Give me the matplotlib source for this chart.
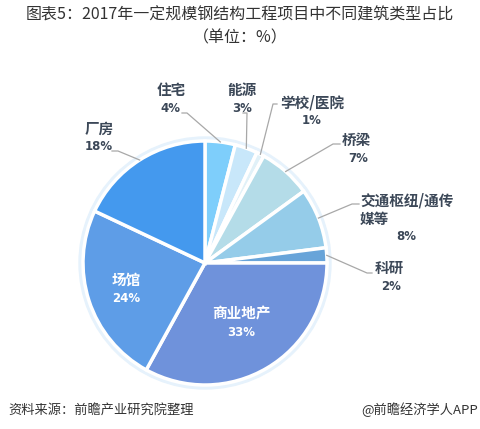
import numpy as np
import matplotlib.pyplot as plt
from matplotlib.patches import Circle

plt.rcParams['font.family'] = ['Noto Sans CJK SC', 'DejaVu Sans']

# data
categories = ['住宅', '能源', '学校/医院', '桥梁', '交通枢纽/通传\n媒等', '科研', '商业地产', '场馆', '厂房']
shares = [4, 3, 1, 7, 8, 2, 33, 24, 18]
colors = ['#7ecefb', '#c8e7fa', '#e1f1f8', '#b4dce8', '#95cce9', '#68a4d9', '#6f92db', '#5e9de7', '#4499ee']

# layout (pixel coords, y down)
name_xy = [(171, 90), (242, 90), (312, 102), (356, 140), (360, 210), (389, 268), (241, 313), (126, 280), (99, 129)]
name_ha = ['center'] * 4 + ['left'] + ['center'] * 4
pct_xy = [(170, 109), (242, 108), (312, 120), (358, 158), (406, 237), (391, 287), (241, 332), (126, 298), (99, 147)]
inside = [False] * 6 + [True, True, False]
elbows = [[(182, 113), (187, 113)], [(243, 113), (247, 113)], [(277, 104), (273, 104)],
          [(340, 144), (333, 144)], [(359, 204), (352, 204)], [(372, 273), (367, 273)],
          None, None, [(112, 151), (118, 151)]]
cx, cy, r = 205, 263, 122

fig = plt.figure(figsize=(4.81, 4.29), dpi=100)
ax = fig.add_axes([0, 0, 1, 1])

ax.add_patch(Circle((cx, cy), r + 4, color='#e6f2fc', zorder=0))
wedges, _ = ax.pie(shares, colors=colors, center=(cx, cy), radius=r,
                   startangle=-90, counterclock=True,
                   wedgeprops=dict(edgecolor='white', linewidth=2.5))

ax.set_xlim(0, 481)
ax.set_ylim(429, 0)
ax.set_aspect('equal')
ax.axis('off')

text_col = '#3c4858'
for i, w in enumerate(wedges):
    col = 'white' if inside[i] else text_col
    ax.text(name_xy[i][0], name_xy[i][1], categories[i], ha=name_ha[i], va='center',
            fontsize=10.5, fontweight='bold', color=col, linespacing=1.2)
    ax.text(pct_xy[i][0], pct_xy[i][1], f'{shares[i]}%', ha='center', va='center',
            fontsize=8.5, fontweight='bold', color=col, family='DejaVu Sans')
    if elbows[i] is not None:
        mid = np.deg2rad((w.theta1 + w.theta2) / 2)
        ex, ey = cx + r * np.cos(mid), cy + r * np.sin(mid)
        xs = [p[0] for p in elbows[i]] + [ex]
        ys = [p[1] for p in elbows[i]] + [ey]
        ax.plot(xs, ys, color='#a8a8a8', lw=0.9, zorder=3)

ax.text(240, 15, '图表5：2017年一定规模钢结构工程项目中不同建筑类型占比', ha='center', va='center',
        fontsize=11.5, color='#333333')
ax.text(240, 38, '（单位：%）', ha='center', va='center', fontsize=11.5, color='#333333')
ax.text(8, 410, '资料来源：前瞻产业研究院整理', ha='left', va='center', fontsize=9.5,
        color='#333333', style='italic')
ax.text(478, 410, '@前瞻经济学人APP', ha='right', va='center', fontsize=9.5, color='#333333')

fig.savefig('out.png', dpi=100)
